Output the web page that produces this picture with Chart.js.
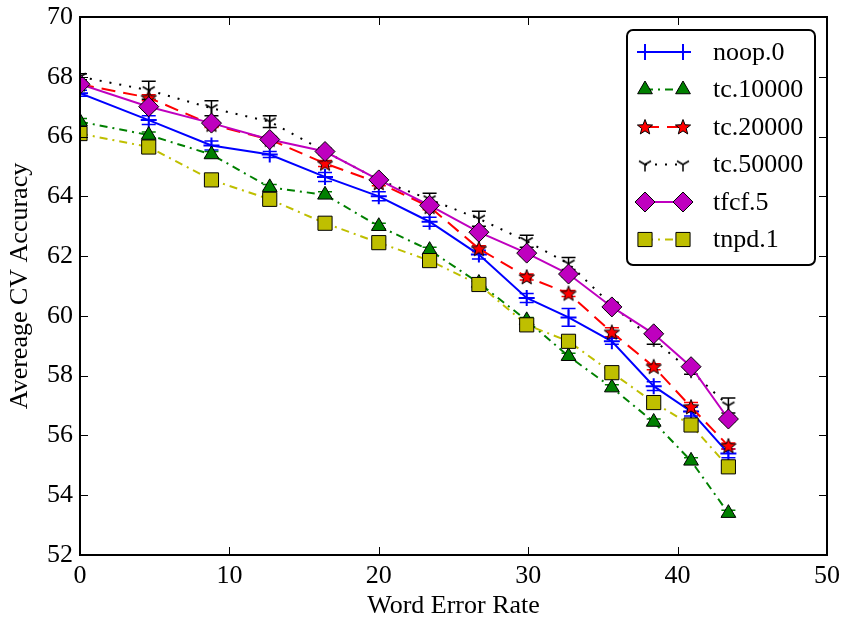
<!DOCTYPE html>
<html>
<head>
<meta charset="utf-8">
<script src="https://cdn.jsdelivr.net/npm/chart.js@4.4.0/dist/chart.umd.min.js"></script>
<style>
    html, body { margin: 0; padding: 0; background: #fff; }
    #wrap { width: 844px; height: 622px; }
</style>
</head>
<body>
<div id="wrap"><canvas id="cvChart" width="844" height="622"></canvas></div>
<script>
// ============================================
// CV ACCURACY vs WORD ERROR RATE
// ============================================

const wer = [0, 4.6, 8.8, 12.7, 16.4, 20.0, 23.4, 26.7, 29.9, 32.7, 35.6, 38.4, 40.9, 43.4];

const seriesNames = ['noop.0', 'tc.10000', 'tc.20000', 'tc.50000', 'tfcf.5', 'tnpd.1'];

const noop0 = [67.45, 66.55, 65.7, 65.4, 64.65, 64.0, 63.15, 62.05, 60.6, 59.95, 59.15, 57.65, 56.8, 55.4];
const tc10000 = [66.5, 66.05, 65.4, 64.3, 64.05, 63.0, 62.2, 61.1, 59.85, 58.65, 57.6, 56.45, 55.15, 53.4];
const tc20000 = [67.75, 67.3, 66.4, 65.9, 65.1, 64.45, 63.65, 62.25, 61.3, 60.75, 59.45, 58.3, 56.95, 55.65];
const tc50000 = [68.0, 67.55, 66.95, 66.5, 65.5, 64.55, 63.9, 63.25, 62.5, 61.75, 60.35, 59.2, 58.15, 57.0];
const tfcf5 = [67.75, 67.0, 66.45, 65.9, 65.5, 64.55, 63.7, 62.8, 62.1, 61.4, 60.3, 59.4, 58.3, 56.55];
const tnpd1 = [66.1, 65.65, 64.55, 63.9, 63.1, 62.45, 61.85, 61.05, 59.7, 59.15, 58.1, 57.1, 56.35, 54.95];

// half-width of the error bars
const noop0Err = [0.1, 0.15, 0.15, 0.1, 0.15, 0.15, 0.15, 0.15, 0.15, 0.3, 0.1, 0.15, 0.15, 0.15];
const tc10000Err = [0.1, 0.1, 0.1, 0.1, 0.1, 0.1, 0.1, 0.1, 0.1, 0.1, 0.1, 0.1, 0.1, 0.1];
const tc20000Err = [0.1, 0.1, 0.1, 0.1, 0.1, 0.1, 0.1, 0.1, 0.1, 0.1, 0.15, 0.1, 0.15, 0.1];
const tc50000Err = [0.1, 0.3, 0.25, 0.2, 0.1, 0.1, 0.2, 0.25, 0.2, 0.2, 0.1, 0.15, 0.1, 0.25];
const tfcf5Err = [0.1, 0.1, 0.1, 0.1, 0.1, 0.1, 0.1, 0.1, 0.1, 0.1, 0.1, 0.1, 0.1, 0.1];
const tnpd1Err = [0.1, 0.1, 0.1, 0.1, 0.1, 0.1, 0.1, 0.1, 0.1, 0.1, 0.1, 0.1, 0.1, 0.1];

const xTicks = [0, 10, 20, 30, 40, 50];
const yTicks = [52, 54, 56, 58, 60, 62, 64, 66, 68, 70];

const FONT = '"Liberation Serif", "DejaVu Serif", serif';

// custom markers: filled star and tri_down
function makeStar() {
    const c = document.createElement('canvas');
    c.width = 20; c.height = 20;
    const g = c.getContext('2d');
    g.beginPath();
    for (let i = 0; i < 10; i++) {
        const r = i % 2 === 0 ? 8 : 3.4;
        const a = -Math.PI / 2 + i * Math.PI / 5;
        const px = 10 + r * Math.cos(a);
        const py = 10.5 + r * Math.sin(a);
        if (i === 0) g.moveTo(px, py); else g.lineTo(px, py);
    }
    g.closePath();
    g.fillStyle = '#ff0000';
    g.fill();
    g.lineWidth = 1;
    g.strokeStyle = '#000';
    g.stroke();
    return c;
}

function makeTriDown() {
    const c = document.createElement('canvas');
    c.width = 18; c.height = 18;
    const g = c.getContext('2d');
    g.strokeStyle = '#000';
    g.lineWidth = 1.5;
    g.beginPath();
    g.moveTo(9, 9); g.lineTo(9, 16);
    g.moveTo(9, 9); g.lineTo(3, 5.5);
    g.moveTo(9, 9); g.lineTo(15, 5.5);
    g.stroke();
    return c;
}

const starMarker = makeStar();
const triDownMarker = makeTriDown();

function toPoints(values) {
    return values.map((v, i) => ({ x: wer[i], y: v }));
}

const seriesStyles = [
    { values: noop0, err: noop0Err, color: '#0000ff', dash: [], pointStyle: 'cross', radius: 8, pointBorder: '#0000ff', pointBorderWidth: 2, fill: '#0000ff' },
    { values: tc10000, err: tc10000Err, color: '#008000', dash: [8, 5, 2, 5], pointStyle: 'triangle', radius: 8.5, pointBorder: '#000', pointBorderWidth: 1, fill: '#008000' },
    { values: tc20000, err: tc20000Err, color: '#ff0000', dash: [14, 8], pointStyle: starMarker, radius: 8, pointBorder: '#000', pointBorderWidth: 1, fill: '#ff0000' },
    { values: tc50000, err: tc50000Err, color: '#000000', dash: [2, 8], pointStyle: triDownMarker, radius: 8, pointBorder: '#000', pointBorderWidth: 1, fill: '#000' },
    { values: tfcf5, err: tfcf5Err, color: '#bf00bf', dash: [], pointStyle: 'rectRot', radius: 10, pointBorder: '#000', pointBorderWidth: 1, fill: '#bf00bf' },
    { values: tnpd1, err: tnpd1Err, color: '#bfbf00', dash: [8, 5, 2, 5], pointStyle: 'rect', radius: 10, pointBorder: '#000', pointBorderWidth: 1, fill: '#bfbf00' },
];

const datasets = seriesStyles.map((s, i) => ({
    label: seriesNames[i],
    data: toPoints(s.values),
    errors: s.err,
    borderColor: s.color,
    borderWidth: 2,
    borderDash: s.dash,
    backgroundColor: s.fill,
    pointStyle: s.pointStyle,
    pointRadius: s.radius,
    pointHoverRadius: s.radius,
    pointBackgroundColor: s.fill,
    pointBorderColor: s.pointBorder,
    pointBorderWidth: s.pointBorderWidth,
    tension: 0,
    fill: false,
    clip: 0,
    order: seriesStyles.length - i, // later series drawn on top
}));

// error bars under the lines/markers
const errorBarPlugin = {
    id: 'errorBars',
    beforeDatasetsDraw(chart) {
        const ctx = chart.ctx;
        const xs = chart.scales.x;
        const ys = chart.scales.y;
        const area = chart.chartArea;
        ctx.save();
        ctx.beginPath();
        ctx.rect(area.left, area.top, area.right - area.left, area.bottom - area.top);
        ctx.clip();
        chart.data.datasets.forEach((ds) => {
            ctx.strokeStyle = ds.borderColor;
            ctx.lineWidth = 1.5;
            ctx.setLineDash([]);
            ds.data.forEach((p, j) => {
                const e = ds.errors[j];
                const px = xs.getPixelForValue(p.x);
                const top = ys.getPixelForValue(p.y + e);
                const bot = ys.getPixelForValue(p.y - e);
                ctx.beginPath();
                ctx.moveTo(px, top); ctx.lineTo(px, bot);
                ctx.moveTo(px - 7, top); ctx.lineTo(px + 7, top);
                ctx.moveTo(px - 7, bot); ctx.lineTo(px + 7, bot);
                ctx.stroke();
            });
        });
        ctx.restore();
    },
};

// frame, inward ticks and legend box
const framePlugin = {
    id: 'frameAndLegend',
    afterDatasetsDraw(chart) {
        const ctx = chart.ctx;
        const xs = chart.scales.x;
        const ys = chart.scales.y;
        const a = chart.chartArea;
        ctx.save();
        ctx.setLineDash([]);
        ctx.strokeStyle = '#000';
        ctx.lineWidth = 1;
        ctx.beginPath();
        xTicks.forEach((v) => {
            const px = Math.round(xs.getPixelForValue(v)) + 0.5;
            ctx.moveTo(px, a.bottom); ctx.lineTo(px, a.bottom - 8);
            ctx.moveTo(px, a.top); ctx.lineTo(px, a.top + 8);
        });
        yTicks.forEach((v) => {
            const py = Math.round(ys.getPixelForValue(v)) + 0.5;
            ctx.moveTo(a.left, py); ctx.lineTo(a.left + 8, py);
            ctx.moveTo(a.right, py); ctx.lineTo(a.right - 8, py);
        });
        ctx.stroke();
        ctx.lineWidth = 2;
        ctx.strokeRect(a.left, a.top, a.right - a.left, a.bottom - a.top);

        // legend
        const lx = 627, ly = 30, lw = 188, lh = 235, r = 6;
        ctx.beginPath();
        ctx.moveTo(lx + r, ly);
        ctx.arcTo(lx + lw, ly, lx + lw, ly + lh, r);
        ctx.arcTo(lx + lw, ly + lh, lx, ly + lh, r);
        ctx.arcTo(lx, ly + lh, lx, ly, r);
        ctx.arcTo(lx, ly, lx + lw, ly, r);
        ctx.closePath();
        ctx.fillStyle = '#fff';
        ctx.fill();
        ctx.lineWidth = 2;
        ctx.strokeStyle = '#000';
        ctx.stroke();

        chart.data.datasets.forEach((ds, i) => {
            const rowY = 52 + i * 37.5;
            const x1 = 645, x2 = 683;
            ctx.strokeStyle = ds.borderColor;
            ctx.lineWidth = 2;
            ctx.setLineDash(ds.borderDash);
            ctx.beginPath();
            ctx.moveTo(x1, rowY); ctx.lineTo(x2, rowY);
            ctx.stroke();
            ctx.setLineDash([]);
            [x1, x2].forEach((mx) => {
                ctx.fillStyle = ds.pointBackgroundColor;
                ctx.strokeStyle = ds.pointBorderColor;
                ctx.lineWidth = ds.pointBorderWidth;
                Chart.helpers.drawPoint(ctx, {
                    pointStyle: ds.pointStyle,
                    radius: ds.pointRadius,
                    rotation: 0,
                    borderWidth: ds.pointBorderWidth,
                }, mx, rowY);
            });
            ctx.fillStyle = '#000';
            ctx.font = '26px ' + FONT;
            ctx.textAlign = 'left';
            ctx.textBaseline = 'middle';
            ctx.fillText(ds.label, 713, rowY + 1);
        });
        ctx.restore();
    },
};

function initChart() {
    const ctx = document.getElementById('cvChart');
    new Chart(ctx, {
        type: 'line',
        data: { datasets: datasets },
        options: {
            responsive: false,
            animation: false,
            devicePixelRatio: 1,
            layout: { padding: { top: 17, right: 17, left: 0, bottom: 0 } },
            plugins: {
                legend: { display: false },
                tooltip: { enabled: false },
            },
            scales: {
                x: {
                    type: 'linear',
                    min: 0,
                    max: 50,
                    afterFit: (scale) => {
                        scale.height = 67;
                        scale.paddingLeft = 0;
                        scale.paddingRight = 0;
                    },
                    afterBuildTicks: (scale) => { scale.ticks = xTicks.map((v) => ({ value: v })); },
                    grid: { display: false, drawTicks: false },
                    border: { display: false },
                    ticks: { color: '#000', padding: 6, font: { family: FONT, size: 26 } },
                    title: {
                        display: true,
                        text: 'Word Error Rate',
                        color: '#000',
                        padding: { top: 0, bottom: 0 },
                        font: { family: FONT, size: 26 },
                    },
                },
                y: {
                    type: 'linear',
                    min: 52,
                    max: 70,
                    afterFit: (scale) => {
                        scale.width = 80;
                        scale.paddingTop = 0;
                        scale.paddingBottom = 0;
                    },
                    afterBuildTicks: (scale) => { scale.ticks = yTicks.map((v) => ({ value: v })); },
                    grid: { display: false, drawTicks: false },
                    border: { display: false },
                    ticks: { color: '#000', padding: 7, font: { family: FONT, size: 26 } },
                    title: {
                        display: true,
                        text: 'Avereage CV Accuracy',
                        color: '#000',
                        padding: { top: 5, bottom: 0 },
                        font: { family: FONT, size: 26 },
                    },
                },
            },
        },
        plugins: [errorBarPlugin, framePlugin],
    });
}

document.addEventListener('DOMContentLoaded', initChart);
</script>
</body>
</html>
